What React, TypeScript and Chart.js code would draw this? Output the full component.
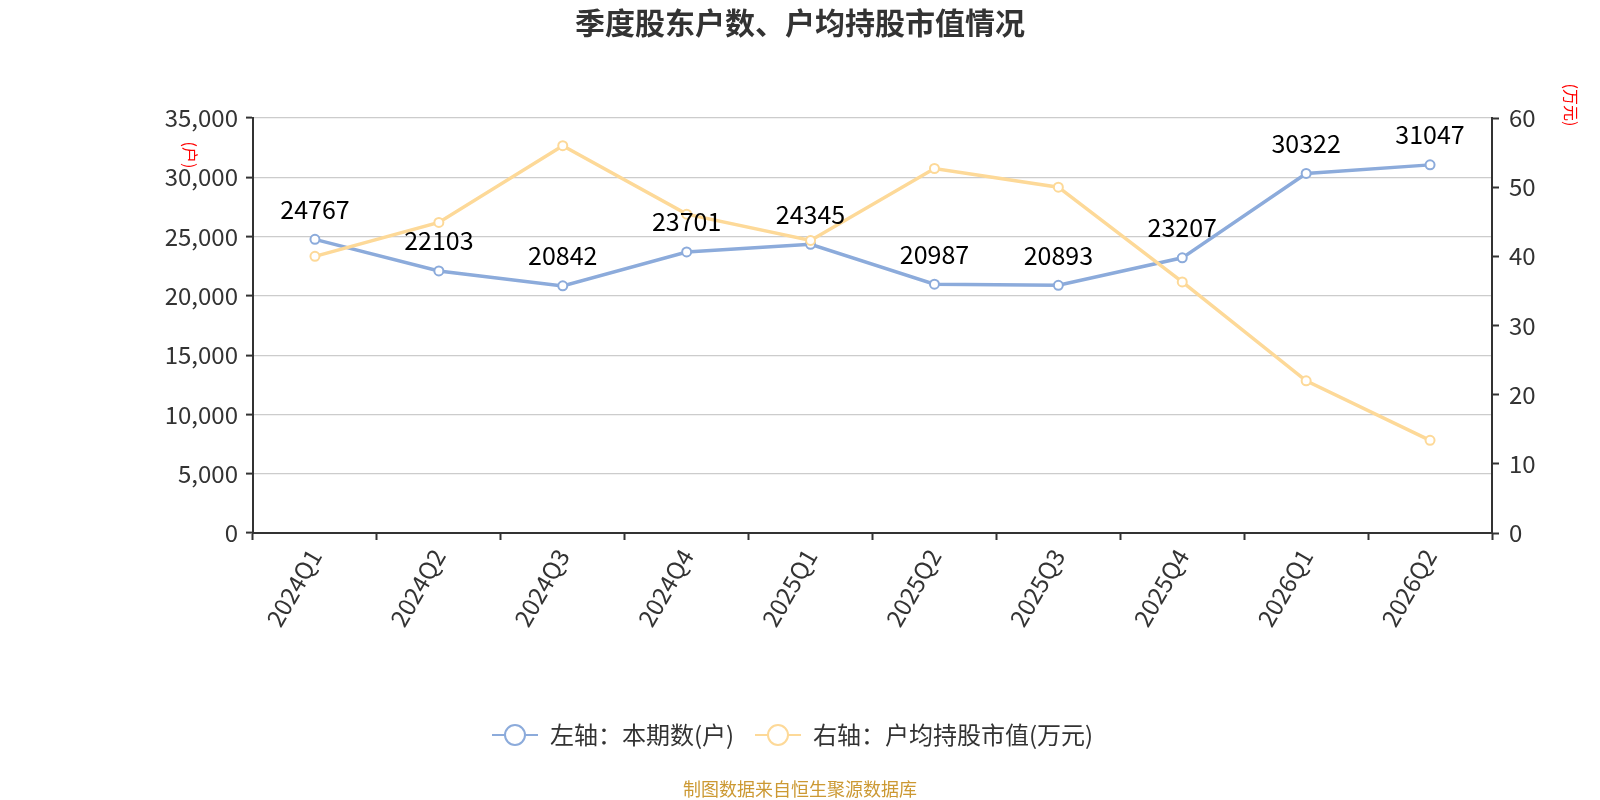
import { useEffect, useRef } from "react";
import { Chart, registerables } from "chart.js";

Chart.register(...registerables);

const quarters = ["2024Q1", "2024Q2", "2024Q3", "2024Q4", "2025Q1", "2025Q2", "2025Q3", "2025Q4", "2026Q1", "2026Q2"];
const holders = [24767, 22103, 20842, 23701, 24345, 20987, 20893, 23207, 30322, 31047];
const avgValue = [40.0, 44.9, 56.0, 46.1, 42.3, 52.7, 50.0, 36.3, 22.0, 13.4];
const legendLabels = ["左轴：本期数(户)", "右轴：户均持股市值(万元)"];

const FONT = '"Noto Sans CJK SC", "Noto Sans", sans-serif';
const BLUE = "#8cabdb";
const YELLOW = "#fdd998";

const decorPlugin = {
  id: "decor",
  afterDatasetsDraw(chart: any) {
    const ctx = chart.ctx;
    // value labels over the blue line
    const meta = chart.getDatasetMeta(0);
    ctx.save();
    ctx.font = `25px ${FONT}`;
    ctx.fillStyle = "#000";
    ctx.textAlign = "center";
    ctx.textBaseline = "middle";
    meta.data.forEach((pt: any, i: number) => {
      ctx.fillText(String(holders[i]), pt.x, pt.y - 30);
    });
    ctx.restore();
  },
  afterDraw(chart: any) {
    const ctx = chart.ctx;
    ctx.save();
    // title
    ctx.font = `bold 30px ${FONT}`;
    ctx.fillStyle = "#333";
    ctx.textAlign = "center";
    ctx.textBaseline = "middle";
    ctx.fillText("季度股东户数、户均持股市值情况", 800, 23);

    // axis names
    ctx.font = `16px ${FONT}`;
    ctx.fillStyle = "#ff0000";
    ctx.save();
    ctx.translate(190, 155);
    ctx.rotate(Math.PI / 2);
    ctx.fillText("(户)", 0, 0);
    ctx.restore();
    ctx.save();
    ctx.translate(1571, 105);
    ctx.rotate(Math.PI / 2);
    ctx.fillText("(万元)", 0, 0);
    ctx.restore();

    // legend
    const items = [
      { x: 492, color: BLUE, text: legendLabels[0] },
      { x: 755, color: YELLOW, text: legendLabels[1] },
    ];
    const ly = 735;
    items.forEach((it) => {
      ctx.strokeStyle = it.color;
      ctx.lineWidth = 2;
      ctx.beginPath();
      ctx.moveTo(it.x, ly);
      ctx.lineTo(it.x + 46, ly);
      ctx.stroke();
      ctx.beginPath();
      ctx.arc(it.x + 23, ly, 10, 0, Math.PI * 2);
      ctx.fillStyle = "#fff";
      ctx.fill();
      ctx.stroke();
      ctx.font = `24px ${FONT}`;
      ctx.fillStyle = "#333";
      ctx.textAlign = "left";
      ctx.fillText(it.text, it.x + 58, ly);
    });

    // source note
    ctx.font = `18px ${FONT}`;
    ctx.fillStyle = "#cc9933";
    ctx.textAlign = "center";
    ctx.fillText("制图数据来自恒生聚源数据库", 800, 789);
    ctx.restore();
  },
};

export default function App() {
  const chartRef = useRef<HTMLCanvasElement>(null);
  const chartInstance = useRef<Chart | null>(null);

  useEffect(() => {
    if (!chartRef.current) return;
    const ctx = chartRef.current.getContext("2d");
    if (!ctx) return;

    const tickFont = { family: FONT, size: 24 };

    chartInstance.current = new Chart(ctx, {
      type: "line",
      data: {
        labels: quarters,
        datasets: [
          {
            label: legendLabels[0],
            data: holders,
            yAxisID: "y",
            borderColor: BLUE,
            backgroundColor: "#fff",
            borderWidth: 3.5,
            pointRadius: 4.5,
            pointBorderWidth: 2,
            pointBackgroundColor: "#fff",
            pointBorderColor: BLUE,
            tension: 0,
            order: 1,
          },
          {
            label: legendLabels[1],
            data: avgValue,
            yAxisID: "y1",
            borderColor: YELLOW,
            backgroundColor: "#fff",
            borderWidth: 3.5,
            pointRadius: 4.5,
            pointBorderWidth: 2,
            pointBackgroundColor: "#fff",
            pointBorderColor: YELLOW,
            tension: 0,
            order: 0,
          },
        ],
      },
      options: {
        responsive: false,
        animation: false,
        layout: { padding: { top: 118, left: 0, right: 0, bottom: 0 } },
        plugins: {
          legend: { display: false },
          title: { display: false },
          tooltip: { enabled: false },
        },
        scales: {
          x: {
            offset: true,
            grid: {
              offset: true,
              drawOnChartArea: false,
              tickLength: 7,
              tickColor: "#333",
              tickWidth: 2,
            },
            border: { color: "#333", width: 2 },
            ticks: {
              font: tickFont,
              color: "#333",
              minRotation: 60,
              maxRotation: 60,
              padding: 4,
            },
            afterFit: (scale: any) => {
              scale.height = 267;
            },
          },
          y: {
            position: "left",
            min: 0,
            max: 35000,
            grid: {
              color: "#cccccc",
              lineWidth: 1.2,
              tickLength: 7,
              tickColor: "#333",
              tickWidth: 2,
            },
            border: { color: "#333", width: 2 },
            ticks: {
              stepSize: 5000,
              font: tickFont,
              color: "#333",
              padding: 8,
              callback: (v: any) => Number(v).toLocaleString("en-US"),
            },
            afterFit: (scale: any) => {
              scale.width = 253;
            },
          },
          y1: {
            position: "right",
            min: 0,
            max: 60,
            grid: {
              drawOnChartArea: false,
              tickLength: 7,
              tickColor: "#333",
              tickWidth: 2,
            },
            border: { color: "#333", width: 2 },
            ticks: {
              stepSize: 10,
              font: tickFont,
              color: "#333",
              padding: 10,
            },
            afterFit: (scale: any) => {
              scale.width = 108;
            },
          },
        },
      },
      plugins: [decorPlugin],
    } as any);

    return () => {
      if (chartInstance.current) {
        chartInstance.current.destroy();
        chartInstance.current = null;
      }
    };
  }, []);

  return (
    <div style={{ position: "fixed", left: 0, top: 0, width: 1600, height: 800, background: "#fff" }}>
      <canvas ref={chartRef} width={1600} height={800} style={{ width: 1600, height: 800 }} />
    </div>
  );
}
